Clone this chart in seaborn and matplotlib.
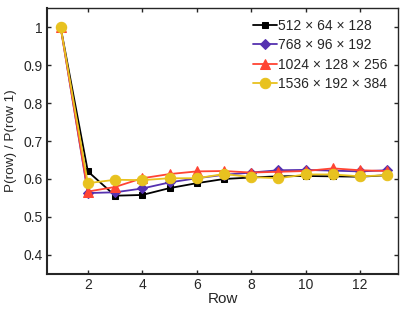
import numpy as np
import pandas as pd
import matplotlib
matplotlib.use("Agg")
import matplotlib.pyplot as plt
import seaborn as sns

# === Daten ===
rows = list(range(1, 14))
labels = ["512 × 64 × 128", "768 × 96 × 192", "1024 × 128 × 256", "1536 × 192 × 384"]
p_512 = [1.0, 0.620, 0.556, 0.558, 0.576, 0.589, 0.600, 0.604, 0.607, 0.608, 0.607, 0.606, 0.610]
p_768 = [1.0, 0.563, 0.565, 0.575, 0.591, 0.602, 0.611, 0.617, 0.623, 0.624, 0.622, 0.620, 0.623]
p_1024 = [1.0, 0.567, 0.579, 0.602, 0.613, 0.620, 0.621, 0.617, 0.619, 0.621, 0.628, 0.623, 0.621]
p_1536 = [1.0, 0.589, 0.598, 0.597, 0.602, 0.602, 0.613, 0.605, 0.602, 0.612, 0.612, 0.607, 0.610]

colors = ["#000000", "#5531b0", "#ff4433", "#e8c21f"]
markers = ["s", "D", "^", "o"]
msizes = [4.5, 5.5, 6.5, 7.5]

df = pd.DataFrame({
    "Row": rows * 4,
    "ratio": p_512 + p_768 + p_1024 + p_1536,
    "grid": sum([[l] * len(rows) for l in labels], []),
})

sns.set_style("ticks")
plt.rcParams["font.family"] = ["Liberation Sans", "DejaVu Sans"]
plt.rcParams["font.size"] = 10

fig = plt.figure(figsize=(4.07, 3.12), dpi=100)
ax = fig.add_axes([0.1155, 0.122, 0.863, 0.852])

for lab, c, m, ms in zip(labels, colors, markers, msizes):
    sub = df[df["grid"] == lab]
    sns.lineplot(data=sub, x="Row", y="ratio", color=c, marker=m, markersize=ms,
                 markeredgecolor=c, linewidth=1.3, label=lab, ax=ax)

ax.set_xlim(0.5, 13.4)
ax.set_ylim(0.35, 1.05)
ax.set_xticks([2, 4, 6, 8, 10, 12])
ax.set_yticks([0.4, 0.5, 0.6, 0.7, 0.8, 0.9, 1.0])
ax.set_yticklabels(["0.4", "0.5", "0.6", "0.7", "0.8", "0.9", "1"])
ax.tick_params(direction="in", top=True, right=True, length=3, width=1, labelsize=10, pad=3)
for s in ax.spines.values():
    s.set_visible(True)
    s.set_linewidth(1.0)
ax.spines["left"].set_linewidth(1.5)
ax.spines["bottom"].set_linewidth(1.5)
ax.set_xlabel("Row", fontsize=11, labelpad=0)
ax.set_ylabel("P(row) / P(row 1)", fontsize=9.7, labelpad=5)

ax.legend(loc="upper right", frameon=False, fontsize=10, handlelength=1.7,
          handletextpad=0.1, labelspacing=0.4, borderaxespad=0.35)

fig.savefig("out.png", dpi=100)
